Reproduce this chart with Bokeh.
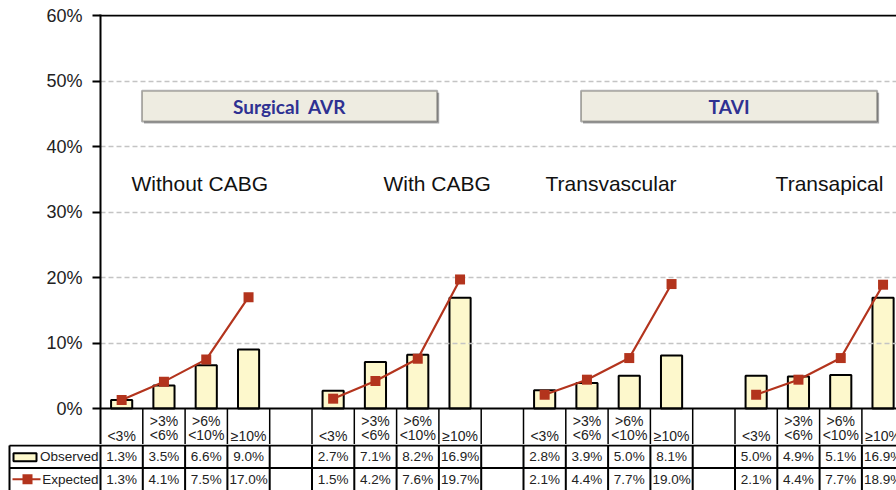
from bokeh.plotting import figure
from bokeh.models import Range1d, FixedTicker, PrintfTickFormatter, Span, BoxAnnotation, Label
from bokeh.layouts import column
from bokeh.embed import file_html
from bokeh.resources import INLINE
from bokeh.core.properties import value

# ---------------- data ----------------
groups = ["Without CABG", "With CABG", "Transvascular", "Transapical"]
risk_labels = ["<3%", ">3%\n<6%", ">6%\n<10%", "\u226510%"]
observed_without_cabg = [1.3, 3.5, 6.6, 9.0]
observed_with_cabg = [2.7, 7.1, 8.2, 16.9]
observed_transvascular = [2.8, 3.9, 5.0, 8.1]
observed_transapical = [5.0, 4.9, 5.1, 16.9]
expected_without_cabg = [1.3, 4.1, 7.5, 17.0]
expected_with_cabg = [1.5, 4.2, 7.6, 19.7]
expected_transvascular = [2.1, 4.4, 7.7, 19.0]
expected_transapical = [2.1, 4.4, 7.7, 18.9]
sections = ["Surgical\u00a0 AVR", "TAVI"]
y_ticks = [0, 10, 20, 30, 40, 50, 60]
grid_ticks = [10, 20, 30, 40, 50]

observed = [observed_without_cabg, observed_with_cabg, observed_transvascular, observed_transapical]
expected = [expected_without_cabg, expected_with_cabg, expected_transvascular, expected_transapical]

# ---------------- layout constants ----------------
W = 896
PXX = 42.3          # px per category slot
PXY = 6.55          # px per percent
LEFT = 100          # px left of chart frame
TOPB = 14
BASE = 408          # page y of the 0% line
SPLIT = 444         # page y where the lower table figure starts
NSLOT = len(groups) * 5 - 1
XMAX = (W - LEFT) / PXX
FONT = "Liberation Sans"
BAR_FILL = "#FDF8CC"
RED = "#B3341D"
TXT = "#222222"

def slot(g, i):
    return g * 5 + i + 0.5

# ---------------- top chart ----------------
ymin = -(SPLIT - BASE) / PXY
ymax = (BASE - TOPB) / PXY
p = figure(width=W, height=SPLIT, x_range=Range1d(0, XMAX),
           y_range=Range1d(ymin, ymax),
           output_backend="svg", toolbar_location=None, x_axis_location=None,
           min_border_left=LEFT, min_border_right=0, min_border_top=TOPB, min_border_bottom=0,
           outline_line_color=None)
p.frame_align = False
p.xgrid.grid_line_color = None
p.xgrid.visible = False

ax = p.yaxis[0]
ax.ticker = FixedTicker(ticks=y_ticks)
ax.formatter = PrintfTickFormatter(format="%d%%")
ax.major_label_text_font = FONT
ax.major_label_text_font_size = "18px"
ax.major_label_text_color = TXT
ax.axis_line_width = 2
ax.axis_line_color = "black"
ax.major_tick_line_width = 2
ax.major_tick_out = 8
ax.major_tick_in = 0
ax.minor_tick_line_color = None
ax.major_label_standoff = 10

p.ygrid.ticker = FixedTicker(ticks=grid_ticks)
p.ygrid.grid_line_color = "#c4c4c4"
p.ygrid.grid_line_dash = "5 3"
p.ygrid.grid_line_width = 1.5

p.add_layout(Span(location=60, dimension="width", line_color="black", line_width=2))
p.add_layout(Span(location=0, dimension="width", line_color="black", line_width=2))

# section boxes
sec_pos = [(0.98, 7.96), (11.36, 18.36)]
for name, (l, r) in zip(sections, sec_pos):
    p.add_layout(BoxAnnotation(left=l + 2 / PXX, right=r + 2 / PXX, bottom=43.8 - 2 / PXY, top=48.5 - 2 / PXY,
                               fill_color="#555555", fill_alpha=0.5, line_color=None))
    p.add_layout(BoxAnnotation(left=l, right=r, bottom=43.8, top=48.5,
                               fill_color="#EEECE1", fill_alpha=1, line_color="black", line_width=2))
    p.add_layout(Label(x=(l + r) / 2, y=(43.8 + 48.5) / 2, text=name, text_align="center",
                       text_baseline="middle", text_font="Lato", text_font_style="bold",
                       text_font_size="19px", text_color="#2E3192"))

# group titles
title_x = [0.733, 6.69, 10.52, 15.96]
for g, name in enumerate(groups):
    p.add_layout(Label(x=title_x[g], y=34.35, text=name, text_align="left", text_baseline="middle",
                       text_font=FONT, text_font_size="21px", text_color="#111111"))

# bars and expected lines
xs_all, obs_all, lab_all = [], [], []
for g in range(len(groups)):
    xs = [slot(g, i) for i in range(len(risk_labels))]
    xs_all += xs
    obs_all += observed[g]
    lab_all += risk_labels
    p.line(xs, expected[g], line_color=RED, line_width=2.2)
    p.scatter(xs, expected[g], marker="square", size=10, fill_color=RED, line_color=None)

p.vbar(x=xs_all, top=obs_all, bottom=0, width=0.5, fill_color=BAR_FILL, line_color="black", line_width=2,
       level="underlay")

# header row (category labels) under the baseline
bounds = list(range(1, NSLOT + 1))
p.segment(x0=bounds, y0=[0] * len(bounds), x1=bounds, y1=[ymin] * len(bounds),
          line_color="black", line_width=1.5)
p.text(x=xs_all, y=[ymin + 1.0 / PXY] * len(xs_all), text=lab_all, text_align="center",
       text_baseline="bottom", text_font=value(FONT), text_font_size="14px", text_color=TXT,
       text_line_height=0.9)

# ---------------- bottom table ----------------
q = figure(width=W, height=490 - SPLIT, x_range=Range1d(-LEFT / PXX, XMAX), y_range=Range1d(0, 2 + 1 / 23),
           output_backend="svg", toolbar_location=None, x_axis_location=None, y_axis_location=None,
           min_border=0, min_border_left=0, min_border_right=0, min_border_top=0, min_border_bottom=0,
           outline_line_color=None)
q.frame_align = False
q.xgrid.visible = False
q.ygrid.visible = False

def px(xp):
    return (xp - LEFT) / PXX

x_left = px(9)
q.segment(x0=[x_left, x_left], y0=[2, 1], x1=[XMAX, XMAX], y1=[2, 1], line_color="black", line_width=2)
vb = [x_left] + list(range(0, NSLOT + 1))
q.segment(x0=vb, y0=[0] * len(vb), x1=vb, y1=[2] * len(vb), line_color="black", line_width=2)

exp_all = sum(expected, [])
q.text(x=xs_all, y=[1.5] * len(xs_all), text=["%.1f%%" % v for v in obs_all], text_align="center",
       text_baseline="middle", text_font=value(FONT), text_font_size="13.5px", text_color=TXT)
q.text(x=xs_all, y=[0.5] * len(xs_all), text=["%.1f%%" % v for v in exp_all], text_align="center",
       text_baseline="middle", text_font=value(FONT), text_font_size="13.5px", text_color=TXT)

# legend keys
q.quad(left=[px(13)], right=[px(36)], bottom=[2 - 16 / 23], top=[2 - 8 / 23],
       fill_color=BAR_FILL, line_color="black", line_width=2)
q.segment(x0=[px(12)], y0=[0.5], x1=[px(40)], y1=[0.5], line_color=RED, line_width=2.2)
q.scatter(x=[px(27)], y=[0.5], marker="square", size=10, fill_color=RED, line_color=None)
q.text(x=[px(98), px(98)], y=[1.5, 0.5], text=["Observed", "Expected"], text_align="right",
       text_baseline="middle", text_font=value(FONT), text_font_size="13.5px", text_color=TXT)

layout = column(p, q, spacing=0)
open("out.html", "w").write(file_html(layout, INLINE))
